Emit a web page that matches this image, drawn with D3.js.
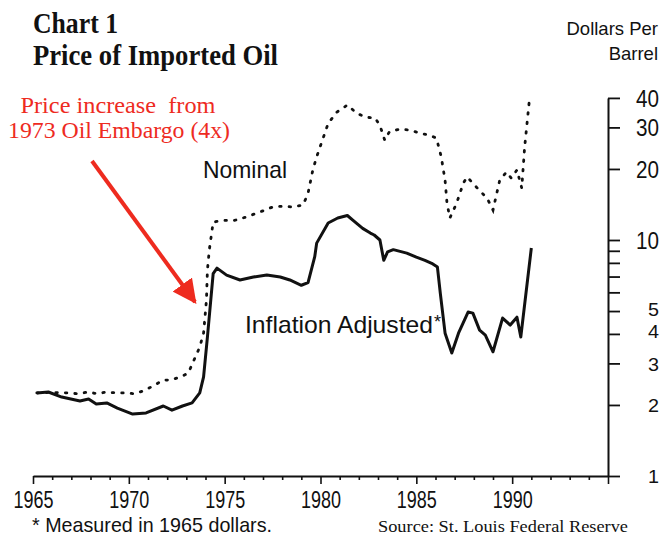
<!DOCTYPE html>
<html>
<head>
<meta charset="utf-8">
<script src="https://cdn.jsdelivr.net/npm/d3@7"></script>
<style>
    body { margin: 0; background: #fff; }
    svg { display: block; }
</style>
</head>
<body>
<svg id="chart"></svg>
<script>
const width = 662;
const height = 544;

// Nominal price (dotted), [year, dollars per barrel]
const nominalYears = [1965.2, 1965.8, 1966.8, 1967.35, 1967.9, 1968.35, 1968.85, 1969.3, 1969.8, 1970.3, 1970.85, 1971.35, 1971.8, 1972.2, 1972.7, 1973.1, 1973.7, 1973.9, 1974.05, 1974.1, 1974.2, 1974.4, 1974.9, 1975.5, 1976.1, 1976.8, 1977.5, 1978.0, 1978.6, 1979.1, 1979.35, 1979.6, 1979.8, 1980.1, 1980.4, 1980.85, 1981.4, 1981.9, 1982.4, 1982.85, 1983.1, 1983.35, 1983.6, 1984.15, 1984.7, 1985.2, 1985.7, 1986.05, 1986.3, 1986.5, 1986.6, 1986.75, 1987.1, 1987.45, 1987.65, 1988.15, 1988.7, 1989.0, 1989.35, 1989.7, 1989.95, 1990.25, 1990.5, 1990.65, 1990.9];
const nominalValues = [2.25, 2.26, 2.25, 2.23, 2.27, 2.23, 2.27, 2.25, 2.25, 2.23, 2.31, 2.43, 2.55, 2.55, 2.63, 2.73, 3.52, 4.03, 5.57, 7.45, 9.1, 11.9, 12.1, 12.1, 12.5, 13.1, 13.8, 13.9, 13.8, 14.1, 15.8, 19.8, 22.5, 26.5, 31.2, 34.8, 37.3, 34.4, 33.1, 32.9, 30.6, 26.5, 28.8, 29.5, 29.2, 28.3, 27.8, 27.0, 22.5, 17.9, 14.3, 12.4, 14.3, 17.4, 18.5, 16.7, 15.0, 13.4, 17.9, 19.4, 18.3, 19.8, 16.6, 24.7, 39.3];

// Inflation adjusted price in 1965 dollars (solid)
const realYears = [1965.2, 1965.8, 1966.5, 1967.45, 1967.9, 1968.3, 1968.85, 1969.4, 1970.2, 1970.9, 1971.8, 1972.25, 1972.8, 1973.3, 1973.7, 1973.9, 1974.1, 1974.4, 1974.6, 1975.1, 1975.8, 1976.5, 1977.2, 1977.9, 1978.4, 1979.0, 1979.35, 1979.7, 1979.8, 1980.4, 1980.9, 1981.4, 1981.7, 1982.2, 1982.6, 1982.8, 1983.1, 1983.3, 1983.5, 1983.8, 1984.5, 1985.0, 1985.45, 1985.8, 1986.1, 1986.25, 1986.5, 1986.85, 1987.2, 1987.7, 1987.95, 1988.3, 1988.6, 1989.0, 1989.5, 1989.9, 1990.25, 1990.45, 1991.0];
const realValues = [2.25, 2.27, 2.16, 2.08, 2.12, 2.02, 2.04, 1.94, 1.83, 1.85, 1.98, 1.90, 1.98, 2.04, 2.25, 2.63, 3.88, 7.2, 7.6, 7.1, 6.77, 6.97, 7.1, 6.97, 6.77, 6.43, 6.6, 8.5, 9.7, 11.8, 12.4, 12.7, 12.1, 11.2, 10.7, 10.5, 10.0, 8.2, 8.9, 9.1, 8.8, 8.46, 8.2, 7.97, 7.68, 5.96, 4.03, 3.32, 4.03, 4.95, 4.9, 4.15, 3.95, 3.36, 4.67, 4.36, 4.71, 3.88, 9.25];

// Axis ticks
const xTickYears = d3.range(1965, 1996);
const xLabelYears = [1965, 1970, 1975, 1980, 1985, 1990];
const yTickValues = [1, 2, 3, 4, 5, 6, 7, 8, 9, 10, 20, 30, 40];
const yLabelValues = [1, 2, 3, 4, 5, 10, 20, 30, 40];

const sans = '"Liberation Sans", Arial, sans-serif';
const serif = '"Liberation Serif", "Times New Roman", serif';
const red = '#ee2b1f';

const svg = d3.select('#chart')
    .attr('width', width)
    .attr('height', height);

const x = d3.scaleLinear().domain([1965, 1995]).range([33, 608]);
const y = d3.scaleLog().domain([1, 40]).range([476, 476 - Math.log10(40) * 236]);

// X axis with yearly minor ticks
const xAxis = svg.append('g')
    .attr('transform', `translate(0,${y(1)})`)
    .call(d3.axisBottom(x)
        .tickValues(xTickYears)
        .tickSizeOuter(0)
        .tickFormat(d => xLabelYears.includes(d) ? d : ''));

xAxis.select('.domain').attr('stroke', '#111').attr('stroke-width', 2);
xAxis.selectAll('.tick line')
    .attr('stroke', '#111')
    .attr('stroke-width', 1.6)
    .attr('y2', d => d % 5 === 0 ? 8 : 4);
// condensed look: squeeze the labels to the narrow width of the original
xAxis.selectAll('.tick text')
    .filter(d => xLabelYears.includes(d))
    .attr('y', 32)
    .attr('dy', null)
    .attr('textLength', 40)
    .attr('lengthAdjust', 'spacingAndGlyphs')
    .style('font-family', sans)
    .style('font-size', '24px')
    .attr('fill', '#111');

// Y axis on the right, log scale
const yAxis = svg.append('g')
    .attr('transform', `translate(${x(1995)},0)`)
    .call(d3.axisRight(y)
        .tickValues(yTickValues)
        .tickSize(12)
        .tickSizeOuter(0)
        .tickFormat(d => yLabelValues.includes(d) ? d : ''));

yAxis.select('.domain').attr('stroke', '#111').attr('stroke-width', 2);
yAxis.selectAll('.tick line').attr('stroke', '#111').attr('stroke-width', 1.8);
// 4 and 5 sit close together, nudge them apart
yAxis.selectAll('.tick text')
    .filter(d => yLabelValues.includes(d))
    .attr('x', 51)
    .attr('text-anchor', 'end')
    .attr('dy', d => d === 4 ? '0.2em' : (d === 5 ? '0.22em' : '0.36em'))
    .attr('textLength', d => d >= 10 ? 23 : 11)
    .attr('lengthAdjust', 'spacingAndGlyphs')
    .style('font-family', sans)
    .style('font-size', d => d >= 10 ? '23px' : '19px')
    .attr('fill', '#111');

// Lines
const line = d3.line()
    .x(d => x(d[0]))
    .y(d => y(d[1]));

svg.append('path')
    .datum(d3.zip(nominalYears, nominalValues))
    .attr('d', line)
    .attr('fill', 'none')
    .attr('stroke', '#111')
    .attr('stroke-width', 2.8)
    .attr('stroke-linecap', 'round')
    .attr('stroke-dasharray', '1.5,8');

svg.append('path')
    .datum(d3.zip(realYears, realValues))
    .attr('d', line)
    .attr('fill', 'none')
    .attr('stroke', '#111')
    .attr('stroke-width', 3)
    .attr('stroke-linejoin', 'round');

// Titles
svg.append('text')
    .attr('x', 33).attr('y', 33)
    .attr('textLength', 85).attr('lengthAdjust', 'spacingAndGlyphs')
    .style('font-family', serif).style('font-size', '29px').style('font-weight', 'bold')
    .attr('fill', '#111')
    .text('Chart 1');

svg.append('text')
    .attr('x', 33).attr('y', 65)
    .attr('textLength', 245).attr('lengthAdjust', 'spacingAndGlyphs')
    .style('font-family', serif).style('font-size', '29px').style('font-weight', 'bold')
    .attr('fill', '#111')
    .text('Price of Imported Oil');

// Units label
svg.append('text')
    .attr('x', 658).attr('y', 35)
    .attr('text-anchor', 'end')
    .style('font-family', sans).style('font-size', '18.5px')
    .attr('fill', '#111')
    .text('Dollars Per');

svg.append('text')
    .attr('x', 658).attr('y', 60)
    .attr('text-anchor', 'end')
    .style('font-family', sans).style('font-size', '18.5px')
    .attr('fill', '#111')
    .text('Barrel');

// Series labels
svg.append('text')
    .attr('x', 203).attr('y', 178)
    .attr('textLength', 84).attr('lengthAdjust', 'spacingAndGlyphs')
    .style('font-family', sans).style('font-size', '24px')
    .attr('fill', '#111')
    .text('Nominal');

svg.append('text')
    .attr('x', 245).attr('y', 333)
    .attr('textLength', 188).attr('lengthAdjust', 'spacingAndGlyphs')
    .style('font-family', sans).style('font-size', '24px')
    .attr('fill', '#111')
    .text('Inflation Adjusted');

svg.append('text')
    .attr('x', 434).attr('y', 328)
    .style('font-family', sans).style('font-size', '18px')
    .attr('fill', '#111')
    .text('*');

// Red annotation and arrow
svg.append('text')
    .attr('x', 118).attr('y', 113)
    .attr('text-anchor', 'middle')
    .attr('textLength', 195).attr('lengthAdjust', 'spacingAndGlyphs')
    .style('font-family', serif).style('font-size', '23px')
    .attr('fill', red)
    .attr('xml:space', 'preserve')
    .text('Price increase  from');

svg.append('text')
    .attr('x', 119).attr('y', 138)
    .attr('text-anchor', 'middle')
    .attr('textLength', 222).attr('lengthAdjust', 'spacingAndGlyphs')
    .style('font-family', serif).style('font-size', '23px')
    .attr('fill', red)
    .text('1973 Oil Embargo (4x)');

svg.append('defs').append('marker')
    .attr('id', 'head')
    .attr('viewBox', '0 0 10 10')
    .attr('refX', 9).attr('refY', 5)
    .attr('markerWidth', 6).attr('markerHeight', 6)
    .attr('markerUnits', 'strokeWidth')
    .attr('orient', 'auto')
    .append('path')
    .attr('d', 'M0,0 L10,5 L0,10 Z')
    .attr('fill', red);

svg.append('line')
    .attr('x1', 92).attr('y1', 161)
    .attr('x2', 195).attr('y2', 302)
    .attr('stroke', red)
    .attr('stroke-width', 4)
    .attr('marker-end', 'url(#head)');

// Footer
svg.append('text')
    .attr('x', 32).attr('y', 532)
    .attr('textLength', 240).attr('lengthAdjust', 'spacingAndGlyphs')
    .style('font-family', sans).style('font-size', '21px')
    .attr('fill', '#111')
    .text('* Measured in 1965 dollars.');

svg.append('text')
    .attr('x', 378).attr('y', 532)
    .attr('textLength', 250).attr('lengthAdjust', 'spacingAndGlyphs')
    .style('font-family', serif).style('font-size', '17px')
    .attr('fill', '#111')
    .text('Source:  St. Louis Federal Reserve');
</script>
</body>
</html>
